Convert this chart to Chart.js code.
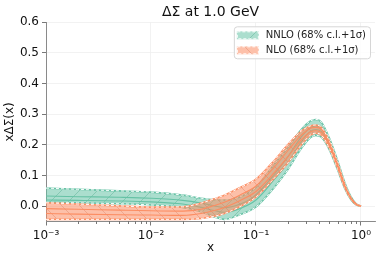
<!DOCTYPE html>
<html lang="en">
<head>
<meta charset="UTF-8">
<title>ΔΣ at 1.0 GeV</title>
<script src="https://cdn.jsdelivr.net/npm/chart.js@4.4.0/dist/chart.umd.min.js"></script>
<style>
  html, body { margin: 0; padding: 0; background: #fff; }
  #wrap { width: 381px; height: 261px; }
</style>
</head>
<body>
<div id="wrap"><canvas id="dsChart"></canvas></div>
<script>
// x grid of the curves
var xs = [0.001, 0.002, 0.005, 0.01, 0.02, 0.03, 0.04, 0.05, 0.07, 0.1, 0.15, 0.2, 0.27, 0.33, 0.37, 0.42, 0.5, 0.6, 0.7, 0.8, 0.9, 1.0];

// NNLO: outer band (+1 sigma) and inner 68% c.l. band
var nnloHi   = [0.059, 0.055, 0.050, 0.046, 0.036, 0.026, 0.021, 0.020, 0.030, 0.062, 0.138, 0.190, 0.250, 0.278, 0.283, 0.274, 0.222, 0.148, 0.078, 0.032, 0.008, 0.0];
var nnloLo   = [0.013, 0.011, 0.008, 0.004, -0.004, -0.018, -0.035, -0.043, -0.028, -0.002, 0.062, 0.118, 0.188, 0.224, 0.231, 0.225, 0.184, 0.118, 0.058, 0.022, 0.004, 0.0];
var nnloInHi = [0.033, 0.031, 0.029, 0.026, 0.019, 0.010, 0.001, -0.005, 0.006, 0.036, 0.105, 0.160, 0.226, 0.256, 0.262, 0.254, 0.207, 0.136, 0.070, 0.028, 0.006, 0.0];
var nnloInLo = [0.020, 0.019, 0.017, 0.014, 0.007, -0.004, -0.014, -0.020, -0.008, 0.020, 0.088, 0.140, 0.210, 0.244, 0.250, 0.243, 0.199, 0.130, 0.065, 0.026, 0.005, 0.0];

// NLO
var nloHi   = [0.011, 0.007, 0.001, -0.003, -0.002, 0.010, 0.024, 0.036, 0.060, 0.088, 0.150, 0.200, 0.245, 0.262, 0.265, 0.257, 0.211, 0.139, 0.071, 0.028, 0.007, 0.0];
var nloLo   = [-0.043, -0.043, -0.043, -0.043, -0.043, -0.040, -0.033, -0.024, -0.002, 0.030, 0.092, 0.140, 0.200, 0.232, 0.238, 0.232, 0.190, 0.124, 0.061, 0.024, 0.005, 0.0];
var nloInHi = [-0.008, -0.010, -0.013, -0.015, -0.016, -0.010, 0.002, 0.013, 0.036, 0.066, 0.128, 0.180, 0.232, 0.254, 0.257, 0.250, 0.205, 0.135, 0.068, 0.027, 0.006, 0.0];
var nloInLo = [-0.024, -0.026, -0.028, -0.029, -0.030, -0.024, -0.014, -0.004, 0.018, 0.048, 0.110, 0.160, 0.216, 0.242, 0.246, 0.240, 0.197, 0.129, 0.064, 0.025, 0.006, 0.0];

var xMajor = [0.001, 0.01, 0.1, 1];
var xMajorLabels = ['10⁻³', '10⁻²', '10⁻¹', '10⁰'];
var yTicks = [0.0, 0.1, 0.2, 0.3, 0.4, 0.5, 0.6];

var FONT = '"DejaVu Sans", sans-serif';
var GREEN = '#66c2a5', ORANGE = '#fc8d62';

function hatch(fill, line, dir) {
  var s = 18;
  var c = document.createElement('canvas');
  c.width = s; c.height = s;
  var g = c.getContext('2d');
  g.fillStyle = fill;
  g.fillRect(0, 0, s, s);
  g.strokeStyle = line;
  g.lineWidth = 0.7;
  g.beginPath();
  if (dir > 0) {
    g.moveTo(-1, s + 1); g.lineTo(s + 1, -1);
  } else {
    g.moveTo(-1, -1); g.lineTo(s + 1, s + 1);
  }
  g.stroke();
  return g.createPattern(c, 'repeat');
}

var greenFill = hatch('rgba(102,194,165,0.55)', 'rgba(70,165,135,0.55)', 1);
var orangeFill = hatch('rgba(252,141,98,0.55)', 'rgba(215,110,75,0.45)', -1);

function pts(arr) {
  return xs.map(function (x, i) { return { x: x, y: arr[i] }; });
}

function line(data, color, extra) {
  var ds = {
    label: '',
    data: pts(data),
    borderColor: color,
    borderWidth: 1,
    pointRadius: 0,
    fill: false,
    cubicInterpolationMode: 'monotone'
  };
  for (var k in extra) ds[k] = extra[k];
  return ds;
}

// one group per order; fill of the outer band is drawn before the group's lines
function bandGroup(name, hi, lo, inHi, inLo, color, pattern, order) {
  return [
    line(inHi, color, { order: order, borderWidth: 1.1 }),
    line(inLo, color, { order: order, borderWidth: 1.1 }),
    line(hi, 'rgba(255,255,255,0.95)', { order: order, borderDash: [3, 2] }),
    line(lo, 'rgba(255,255,255,0.95)', { order: order, borderDash: [3, 2] }),
    line(lo, color, { order: order, borderWidth: 1.6 }),
    line(hi, color, { order: order, borderWidth: 1.6, label: name, fill: '-1', backgroundColor: pattern })
  ];
}

var datasets = []
  .concat(bandGroup('NNLO (68% c.l.+1σ)', nnloHi, nnloLo, nnloInHi, nnloInLo, GREEN, greenFill, 1))
  .concat(bandGroup('NLO (68% c.l.+1σ)', nloHi, nloLo, nloInHi, nloInLo, ORANGE, orangeFill, 0));

var minorTicks = {
  id: 'minorTicks',
  afterDraw: function (chart) {
    var sx = chart.scales.x, ctx = chart.ctx;
    ctx.save();
    ctx.strokeStyle = '#555';
    ctx.lineWidth = 0.8;
    for (var d = 0.001; d < 0.5; d *= 10) {
      for (var m = 2; m <= 9; m++) {
        var px = Math.round(sx.getPixelForValue(m * d)) + 0.5;
        ctx.beginPath();
        ctx.moveTo(px, sx.top);
        ctx.lineTo(px, sx.top + 2.5);
        ctx.stroke();
      }
    }
    ctx.restore();
  }
};

var bandLegend = {
  id: 'bandLegend',
  afterDraw: function (chart) {
    var ctx = chart.ctx, area = chart.chartArea;
    var items = chart.data.datasets.filter(function (ds) { return ds.label; });
    ctx.save();
    ctx.font = '10px ' + FONT;
    var textW = Math.max.apply(null, items.map(function (ds) { return ctx.measureText(ds.label).width; }));
    var w = 3 + 22 + 7 + textW + 4, h = 32;
    var x0 = area.right - 5 - w, y0 = area.top + 4;
    ctx.beginPath();
    ctx.roundRect(x0 + 0.5, y0 + 0.5, w, h, 3);
    ctx.fillStyle = 'rgba(255,255,255,0.85)';
    ctx.fill();
    ctx.strokeStyle = '#d6d6d6';
    ctx.lineWidth = 1;
    ctx.stroke();
    items.forEach(function (ds, i) {
      var cy = y0 + 9 + i * 15;
      ctx.fillStyle = ds.backgroundColor;
      ctx.fillRect(x0 + 3, cy - 4, 22, 8);
      ctx.setLineDash([3, 2]);
      ctx.strokeStyle = 'rgba(255,255,255,0.95)';
      ctx.strokeRect(x0 + 3.5, cy - 3.5, 21, 7);
      ctx.setLineDash([]);
      ctx.fillStyle = '#222';
      ctx.textBaseline = 'middle';
      ctx.textAlign = 'left';
      ctx.fillText(ds.label, x0 + 32, cy + 0.5);
    });
    ctx.restore();
  }
};

new Chart(document.getElementById('dsChart'), {
  type: 'line',
  data: { datasets: datasets },
  plugins: [minorTicks, bandLegend],
  options: {
    responsive: true,
    maintainAspectRatio: false,
    animation: false,
    layout: { padding: { left: 0, right: 6, top: 0, bottom: 0 } },
    plugins: {
      legend: { display: false },
      tooltip: { enabled: false },
      title: {
        display: true,
        fullSize: false,
        text: 'ΔΣ at 1.0 GeV',
        color: '#111',
        font: { family: FONT, size: 14, weight: 'normal' },
        padding: { top: 4, bottom: 1.5 }
      }
    },
    scales: {
      x: {
        type: 'logarithmic',
        min: 0.001,
        max: 1.36,
        afterBuildTicks: function (s) {
          s.ticks = xMajor.map(function (v) { return { value: v }; });
        },
        afterFit: function (s) { s.height = 39.5; },
        ticks: {
          autoSkip: false,
          maxRotation: 0,
          padding: 3,
          color: '#111',
          font: { family: FONT, size: 12 },
          callback: function (v) {
            var i = xMajor.indexOf(v);
            return i >= 0 ? xMajorLabels[i] : '';
          }
        },
        grid: { color: '#efefef', tickColor: '#555', tickLength: 4, lineWidth: 0.8 },
        border: { color: '#8a8a8a', width: 1 },
        title: {
          display: true,
          text: 'x',
          color: '#111',
          font: { family: FONT, size: 12 },
          padding: { top: 0, bottom: 6 }
        }
      },
      y: {
        min: -0.05,
        max: 0.6,
        afterBuildTicks: function (s) {
          s.ticks = yTicks.map(function (v) { return { value: v }; });
        },
        afterFit: function (s) { s.width = 46; },
        ticks: {
          padding: 3,
          color: '#111',
          font: { family: FONT, size: 12 },
          callback: function (v) { return Number(v).toFixed(1); }
        },
        grid: { color: '#efefef', tickColor: '#555', tickLength: 4, lineWidth: 0.8 },
        border: { color: '#8a8a8a', width: 1 },
        title: {
          display: true,
          text: 'xΔΣ(x)',
          color: '#111',
          font: { family: FONT, size: 12 },
          padding: { top: 3, bottom: 0 }
        }
      }
    }
  }
});
</script>
</body>
</html>
